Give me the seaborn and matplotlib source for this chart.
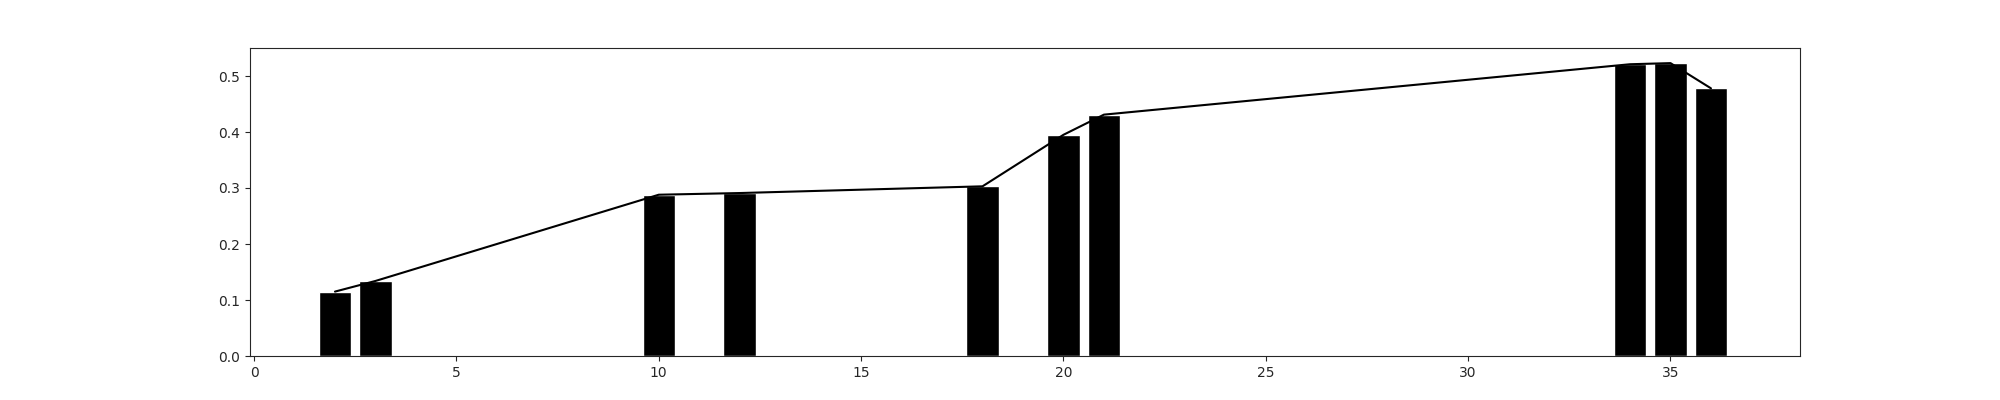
import matplotlib
matplotlib.use("Agg")
import matplotlib.pyplot as plt
import seaborn as sns
import pandas as pd

positions = [2, 3, 10, 12, 18, 20, 21, 34, 35, 36]
values = [0.115, 0.134, 0.288, 0.291, 0.303, 0.395, 0.431, 0.521, 0.523, 0.478]

sns.set_style("ticks")
plt.rcParams['font.family'] = ['DejaVu Sans']

df = pd.DataFrame({"x": positions, "y": values})

fig, ax = plt.subplots(figsize=(20, 4), dpi=100)
ax.bar(df["x"], df["y"], width=0.8, color="black")
sns.lineplot(data=df, x="x", y="y", color="black", linewidth=1.5, ax=ax)

ax.set_xlim(-0.1, 38.2)
ax.set_ylim(0, 0.55)
ax.set_xticks(range(0, 36, 5))
ax.set_xlabel("")
ax.set_ylabel("")

plt.savefig("out.png", dpi=100)
plt.close()
